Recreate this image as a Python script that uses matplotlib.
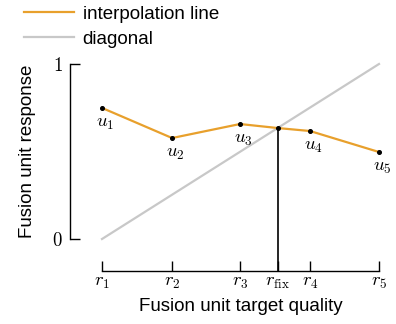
import matplotlib
matplotlib.use("Agg")
import matplotlib.pyplot as plt

plt.rcParams['font.family'] = ['Liberation Sans', 'DejaVu Sans']
plt.rcParams['mathtext.fontset'] = 'cm'

# data
r_pos = [0.0, 0.253, 0.498, 0.751, 1.0]
u_vals = [0.749, 0.577, 0.657, 0.617, 0.497]
r_fix = 0.635
u_fix = 0.634
r_labels = [r'$r_1$', r'$r_2$', r'$r_3$', r'$r_4$', r'$r_5$']
u_labels = [r'$u_1$', r'$u_2$', r'$u_3$', r'$u_4$', r'$u_5$']
fix_label = r'$r_{\mathrm{fix}}$'

orange = '#E8A02C'
gray = '#c8c8c8'
FS = 13.5

fig = plt.figure(figsize=(3.96, 3.24), dpi=100)
W, H = 396, 324
x0, x1 = 102, 379
y_top, y_bot = 64, 239
ax = fig.add_axes([x0 / W, (H - y_bot) / H, (x1 - x0) / W, (y_bot - y_top) / H])
ax.set_xlim(0, 1.0)
ax.set_ylim(0, 1.0)
offset_px = 32
y_spine = -offset_px / (y_bot - y_top)

xs = r_pos[:3] + [r_fix] + r_pos[3:]
ys = u_vals[:3] + [u_fix] + u_vals[3:]
l1, = ax.plot(xs, ys, color=orange, lw=1.6, clip_on=False, zorder=3, label='interpolation line')
l2, = ax.plot([0, 1], [0, 1], color=gray, lw=1.6, clip_on=False, zorder=2, label='diagonal')
ax.plot(xs, ys, 'o', color='black', ms=2.6, clip_on=False, zorder=4)
ax.plot([r_fix, r_fix], [u_fix, y_spine], color='black', lw=1.2, clip_on=False, zorder=3)

for x, y, lab in zip(r_pos, u_vals, u_labels):
    ax.annotate(lab, (x, y), xytext=(2.2, -11.5), textcoords='offset points',
                ha='center', va='center', fontsize=FS, annotation_clip=False)

for s in ['top', 'right']:
    ax.spines[s].set_visible(False)
for s in ['left', 'bottom']:
    ax.spines[s].set_position(('outward', offset_px * 72 / 100))
    ax.spines[s].set_bounds(0, 1)
    ax.spines[s].set_linewidth(1.0)

ax.set_yticks([0, 1])
ax.set_yticklabels([r'$0$', r'$1$'], fontsize=FS)
ticks_x = r_pos[:3] + [r_fix] + r_pos[3:]
labs_x = r_labels[:3] + [fix_label] + r_labels[3:]
ax.set_xticks(ticks_x)
ax.set_xticklabels(labs_x, fontsize=FS)
ax.tick_params(axis='both', direction='in', length=7, width=1.0)
ax.tick_params(axis='y', pad=5)
ax.tick_params(axis='x', pad=2)

ax.set_xlabel('Fusion unit target quality', fontsize=FS, labelpad=5)
ax.set_ylabel('Fusion unit response', fontsize=FS, labelpad=12)

fig.legend(handles=[l1, l2], loc='upper left', bbox_to_anchor=(20 / W - 0.01, 1.005),
           frameon=False, fontsize=FS, handlelength=2.7, handletextpad=0.45,
           labelspacing=0.4, borderaxespad=0)

fig.savefig('out.png', dpi=100)
